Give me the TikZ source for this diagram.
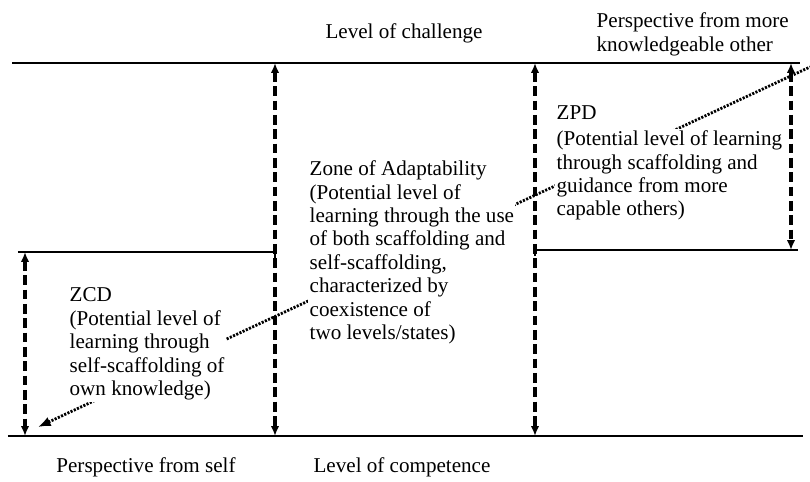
\documentclass[tikz,border=0pt]{standalone}
\usepackage{fontspec}
\setmainfont{Liberation Serif}
\usetikzlibrary{arrows.meta}

\tikzset{
  txt/.style={font=\fontsize{15pt}{16.7pt}\selectfont, inner sep=1pt},
  zonetxt/.style={txt, align=left, anchor=north west, fill=white},
  rule/.style={line width=1.5pt},
  levelarrow/.style={line width=2.2pt, dash pattern=on 7pt off 3.2pt,
    {Latex[length=7pt,width=6pt]}-{Latex[length=7pt,width=6pt]}},
  linkarrow/.style={line width=2pt, dash pattern=on 1.5pt off 1pt,
    {Latex[length=9pt,width=7pt]}-},
}

\begin{document}
\begin{tikzpicture}
\useasboundingbox (0,0) rectangle (20.25,12.025);

% ends of the level arrows
\coordinate (zcd top) at (0.625,5.725);
\coordinate (zcd bot) at (0.625,1.125);
\coordinate (za left top) at (6.875,10.45);
\coordinate (za left bot) at (6.875,1.125);
\coordinate (za right top) at (13.375,10.45);
\coordinate (za right bot) at (13.375,1.125);
\coordinate (zpd top) at (19.775,10.45);
\coordinate (zpd bot) at (19.775,5.775);

% the self -> other line
\coordinate (self end) at (0.95,1.35);
\coordinate (other end) at (20.25,10.35);
\draw[linkarrow] (self end) -- (other end);

% levels
\draw[rule] (0.3,10.45) -- (20,10.45);
\draw[rule] (0.2,1.125) -- (20.075,1.125);
\draw[rule] (0.45,5.725) -- (6.875,5.725) -- ++(0,-0.15);
\draw[rule] (13.375,5.625) -- (13.375,5.775) -- (19.95,5.775);

\draw[levelarrow] (zcd top) -- (zcd bot);
\draw[levelarrow] (za left top) -- (za left bot);
\draw[levelarrow] (za right top) -- (za right bot);
\draw[levelarrow] (zpd top) -- (zpd bot);

% labels
\node[txt] (challenge) at (10.1,11.2) {Level of challenge};
\node[txt, align=left, anchor=north west] (other) at (14.875,11.75)
  {Perspective from more\\knowledgeable other};
\node[txt] (self) at (3.65,0.33) {Perspective from self};
\node[txt] (competence) at (10.05,0.33) {Level of competence};

\node[zonetxt] (zcd) at (1.7,4.875)
  {ZCD\\(Potential level of\\learning through\\self-scaffolding of\\own knowledge)};
\node[zonetxt] (za) at (7.7,8.05)
  {Zone of Adaptability\\(Potential level of\\learning through the use\\of both scaffolding and\\self-scaffolding,\\characterized by\\coexistence of\\two levels/states)};
\node[txt, anchor=north west] (zpd title) at (13.875,9.425) {ZPD};
\node[zonetxt] (zpd) at (13.875,8.8)
  {(Potential level of learning\\through scaffolding and\\guidance from more\\capable others)};
\end{tikzpicture}
\end{document}
